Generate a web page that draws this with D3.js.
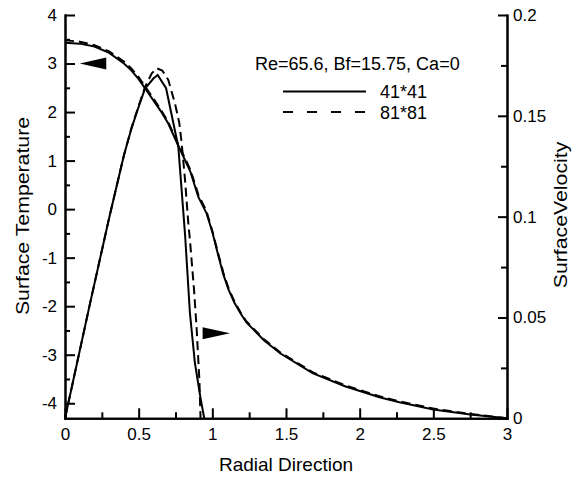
<!DOCTYPE html>
<html>
<head>
<meta charset="utf-8">
<script src="https://cdn.jsdelivr.net/npm/d3@7"></script>
<style>
  body { margin: 0; background: #fff; }
  text { font-family: Arial, "Liberation Sans", Helvetica, sans-serif; fill: #000; }
  .axis path, .axis line { stroke: #000; stroke-width: 2; }
  .axis text { font-size: 17px; }
</style>
</head>
<body>
<div id="chart"></div>
<script>
// radial position vs surface temperature (left axis)
const tempR = [0, 0.1, 0.2, 0.3, 0.4, 0.45, 0.5, 0.55, 0.6, 0.65, 0.7, 0.77, 0.85, 0.905, 0.96, 1.0, 1.04, 1.075, 1.11, 1.15, 1.19, 1.23, 1.35, 1.46, 1.68, 1.9, 2.14, 2.27, 2.5, 2.75, 3.0];
const temp41 = [3.43, 3.41, 3.35, 3.22, 3.0, 2.86, 2.68, 2.46, 2.24, 2.02, 1.77, 1.3, 0.78, 0.25, -0.08, -0.47, -0.95, -1.35, -1.66, -1.93, -2.14, -2.33, -2.7, -2.97, -3.38, -3.65, -3.88, -3.98, -4.13, -4.23, -4.31];
const temp81 = [3.48, 3.45, 3.38, 3.25, 3.04, 2.9, 2.72, 2.5, 2.28, 2.05, 1.8, 1.33, 0.82, 0.3, -0.04, -0.45, -0.92, -1.31, -1.63, -1.9, -2.12, -2.31, -2.68, -2.95, -3.36, -3.63, -3.86, -3.96, -4.11, -4.22, -4.31];

// radial position vs surface velocity (right axis)
const vel41R = [0, 0.17, 0.3, 0.4, 0.45, 0.5, 0.543, 0.6, 0.629, 0.686, 0.769, 0.815, 0.848, 0.882, 0.92, 0.945];
const vel41 = [0, 0.057, 0.0995, 0.1305, 0.1435, 0.1545, 0.1635, 0.1685, 0.1703, 0.1637, 0.1347, 0.091, 0.0521, 0.0273, 0.01, 0];
const vel81R = [0, 0.17, 0.3, 0.4, 0.45, 0.5, 0.543, 0.588, 0.622, 0.66, 0.701, 0.747, 0.776, 0.792, 0.815, 0.837, 0.848, 0.876, 0.894, 0.912, 0.92];
const vel81 = [0, 0.057, 0.0995, 0.1305, 0.1437, 0.155, 0.1642, 0.171, 0.1736, 0.1725, 0.1678, 0.156, 0.1463, 0.1364, 0.118, 0.0967, 0.0884, 0.0636, 0.0438, 0.019, 0];

const xTicks = [0, 0.5, 1, 1.5, 2, 2.5, 3];
const leftTicks = [-4, -3, -2, -1, 0, 1, 2, 3, 4];
const rightTicks = [0, 0.05, 0.1, 0.15, 0.2];
const legendTitle = "Re=65.6, Bf=15.75, Ca=0";
const legendLabels = ["41*41", "81*81"];

const width = 579, height = 478;
const svg = d3.select("#chart").append("svg")
  .attr("width", width)
  .attr("height", height);

const x = d3.scaleLinear().domain([0, 3]).range([65, 507]);
const yL = d3.scaleLinear().domain([-4.31, 4]).range([418.3, 15]);
const yR = d3.scaleLinear().domain([0, 0.2]).range([418.3, 15]);

// minor ticks first
svg.append("g").attr("class", "axis")
  .attr("transform", `translate(0,${yL.range()[0]})`)
  .call(d3.axisBottom(x).tickValues(d3.range(0.25, 3, 0.5)).tickSize(-6).tickSizeOuter(0).tickFormat(""));
svg.append("g").attr("class", "axis")
  .attr("transform", `translate(${x(0)},0)`)
  .call(d3.axisLeft(yL).tickValues(d3.range(-3.5, 4, 1)).tickSize(-5).tickSizeOuter(0).tickFormat(""));
svg.append("g").attr("class", "axis")
  .attr("transform", `translate(${x(3)},0)`)
  .call(d3.axisRight(yR).tickValues([0.025, 0.075, 0.125, 0.175]).tickSize(-6).tickSizeOuter(0).tickFormat(""));

// major axes
svg.append("g").attr("class", "axis")
  .attr("transform", `translate(0,${yL.range()[0]})`)
  .call(d3.axisBottom(x).tickValues(xTicks).tickSize(-10).tickSizeOuter(0).tickPadding(10).tickFormat(d => String(d)));
svg.append("g").attr("class", "axis")
  .attr("transform", `translate(${x(0)},0)`)
  .call(d3.axisLeft(yL).tickValues(leftTicks).tickSize(-10).tickSizeOuter(0).tickPadding(8).tickFormat(d => String(d)));
svg.append("g").attr("class", "axis")
  .attr("transform", `translate(${x(3)},0)`)
  .call(d3.axisRight(yR).tickValues(rightTicks).tickSize(-9).tickSizeOuter(0).tickPadding(6).tickFormat(d => String(d)));

svg.selectAll(".axis .domain").attr("stroke-linecap", "square");

// axis titles
svg.append("text")
  .attr("x", 286).attr("y", 471)
  .attr("text-anchor", "middle")
  .style("font-size", "19px")
  .text("Radial Direction");
svg.append("text")
  .attr("transform", "translate(29,216) rotate(-90) scale(1.12,1)")
  .attr("text-anchor", "middle")
  .style("font-size", "19px")
  .text("Surface Temperature");
svg.append("text")
  .attr("transform", "translate(567,215) rotate(-90) scale(1.12,1)")
  .attr("text-anchor", "middle")
  .style("font-size", "19px")
  .text("SurfaceVelocity");

// curves
const lineT = d3.line().x(d => x(d[0])).y(d => yL(d[1]));
const lineV = d3.line().x(d => x(d[0])).y(d => yR(d[1]));

const curves = [
  { pts: d3.zip(tempR, temp41), line: lineT, dash: null },
  { pts: d3.zip(tempR, temp81), line: lineT, dash: "9,5" },
  { pts: d3.zip(vel41R, vel41), line: lineV, dash: null },
  { pts: d3.zip(vel81R, vel81), line: lineV, dash: "9,5" }
];

svg.append("g").selectAll("path")
  .data(curves)
  .join("path")
  .attr("d", d => d.line(d.pts))
  .attr("fill", "none")
  .attr("stroke", "#000")
  .attr("stroke-width", 2)
  .attr("stroke-dasharray", d => d.dash);

// arrows pointing to the axis each curve belongs to
const arrows = [
  { tip: [x(0.1), yL(3)], base: x(0.28) },
  { tip: [x(1.12), yR(0.0422)], base: x(0.934) }
];
svg.append("g").selectAll("path")
  .data(arrows)
  .join("path")
  .attr("d", d => `M${d.tip[0]},${d.tip[1]} L${d.base},${d.tip[1] - 6} L${d.base},${d.tip[1] + 6} Z`)
  .attr("fill", "#000");

// legend
const legend = svg.append("g");
legend.append("text")
  .attr("x", 255).attr("y", 70)
  .style("font-size", "18px")
  .text(legendTitle);
const rows = legend.selectAll("g.row")
  .data(legendLabels)
  .join("g")
  .attr("class", "row")
  .attr("transform", (d, i) => `translate(0,${91.5 + i * 20.5})`);
rows.append("line")
  .attr("x1", 283).attr("x2", 366)
  .attr("stroke", "#000")
  .attr("stroke-width", 2)
  .attr("stroke-dasharray", (d, i) => i ? "10,14" : null);
rows.append("text")
  .attr("x", 380).attr("y", 6.5)
  .style("font-size", "18px")
  .text(d => d);
</script>
</body>
</html>
